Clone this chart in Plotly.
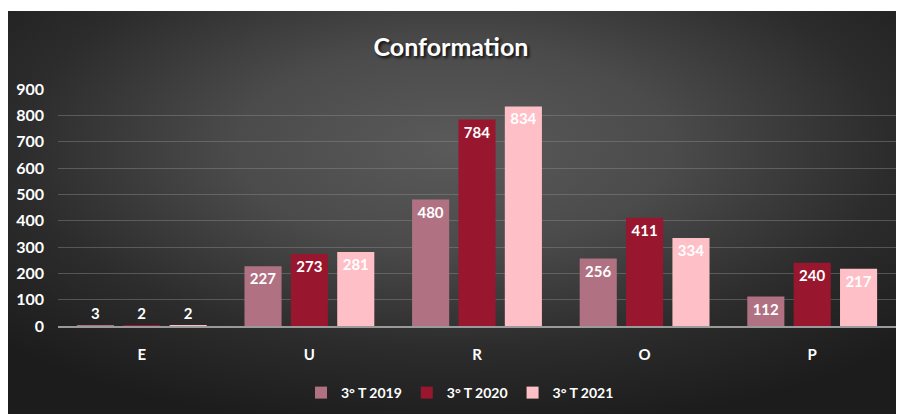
import plotly.graph_objects as go
import base64

categories = ["E", "U", "R", "O", "P"]
series_names = ["3° T 2019", "3° T 2020", "3° T 2021"]
s2019 = [3, 227, 480, 256, 112]
s2020 = [2, 273, 784, 411, 240]
s2021 = [2, 281, 834, 334, 217]
y_ticks = [0, 100, 200, 300, 400, 500, 600, 700, 800, 900]

colors = ["#B07283", "#98172E", "#FFBFC7"]
FONT = "Lato"

svg = """<svg xmlns='http://www.w3.org/2000/svg' width='893' height='403' viewBox='0 0 893 403' preserveAspectRatio='none'>
<defs><radialGradient id='g' cx='0.5' cy='0.33' r='0.7'>
<stop offset='0' stop-color='#5a5a5a'/>
<stop offset='0.35' stop-color='#4b4b4b'/>
<stop offset='0.7' stop-color='#2c2c2c'/>
<stop offset='1' stop-color='#1c1c1c'/>
</radialGradient></defs>
<rect width='893' height='403' fill='url(#g)'/></svg>"""
bg_src = "data:image/svg+xml;base64," + base64.b64encode(svg.encode()).decode()

fig = go.Figure()
for name, vals, col in zip(series_names, [s2019, s2020, s2021], colors):
    fig.add_trace(go.Bar(
        x=categories, y=vals, name=name,
        marker=dict(color=col, line=dict(width=0)),
        text=[str(v) for v in vals],
        textposition="auto",
        insidetextanchor="end",
        textfont=dict(family=FONT, size=15, color="white", weight="bold"),
        outsidetextfont=dict(family=FONT, size=15, color="white", weight="bold"),
        insidetextfont=dict(family=FONT, size=15, color="white", weight="bold"),
        cliponaxis=False,
        textangle=0,
    ))

W, H = 904, 414
ml, mr, mt, mb = 50, 16, 81, 96
pw, ph = W - ml - mr, H - mt - mb

def px_x(p):
    return (p - ml) / pw

def px_y(p):
    return (H - mb - p) / ph

fig.add_layout_image(dict(
    source=bg_src, xref="paper", yref="paper",
    x=px_x(0), y=px_y(3), sizex=891 / pw, sizey=(414 - 3) / ph,
    xanchor="left", yanchor="top", sizing="stretch", layer="below",
))

fig.update_layout(
    width=W, height=H,
    margin=dict(l=ml, r=mr, t=mt, b=mb, autoexpand=False),
    paper_bgcolor="white",
    plot_bgcolor="rgba(0,0,0,0)",
    barmode="group",
    bargap=0.17,
    bargroupgap=0.2,
    title=dict(
        text="Conformation", x=443 / W, xref="container", xanchor="center",
        y=1 - 39 / H, yref="container", yanchor="middle",
        font=dict(family=FONT, size=25, color="white", weight="bold",
                  shadow="2px 2px 3px rgba(0,0,0,0.8)"),
    ),
    legend=dict(
        orientation="h", x=452 / W, xref="container", xanchor="center",
        y=1 - 385 / H, yref="container", yanchor="middle",
        font=dict(family=FONT, size=14, color="white", weight="bold"),
        bgcolor="rgba(0,0,0,0)", itemwidth=30, traceorder="normal",
    ),
    font=dict(family=FONT, color="white"),
    showlegend=True,
)
fig.update_yaxes(
    range=[0, 900], tickvals=y_ticks, automargin=False,
    showgrid=True, gridcolor="rgba(140,140,140,0.45)", gridwidth=1,
    zeroline=False, showline=False,
    tickfont=dict(family=FONT, size=16, color="white", weight="bold"),
    ticklabelstandoff=13,
)
fig.update_xaxes(
    showgrid=False, showline=True, linecolor="#9a9a9a", linewidth=2,
    automargin=False,
    ticks="outside", ticklen=14, tickcolor="rgba(0,0,0,0)",
    tickfont=dict(family=FONT, size=15, color="white", weight="bold"),
)

fig.write_html("out.html")
